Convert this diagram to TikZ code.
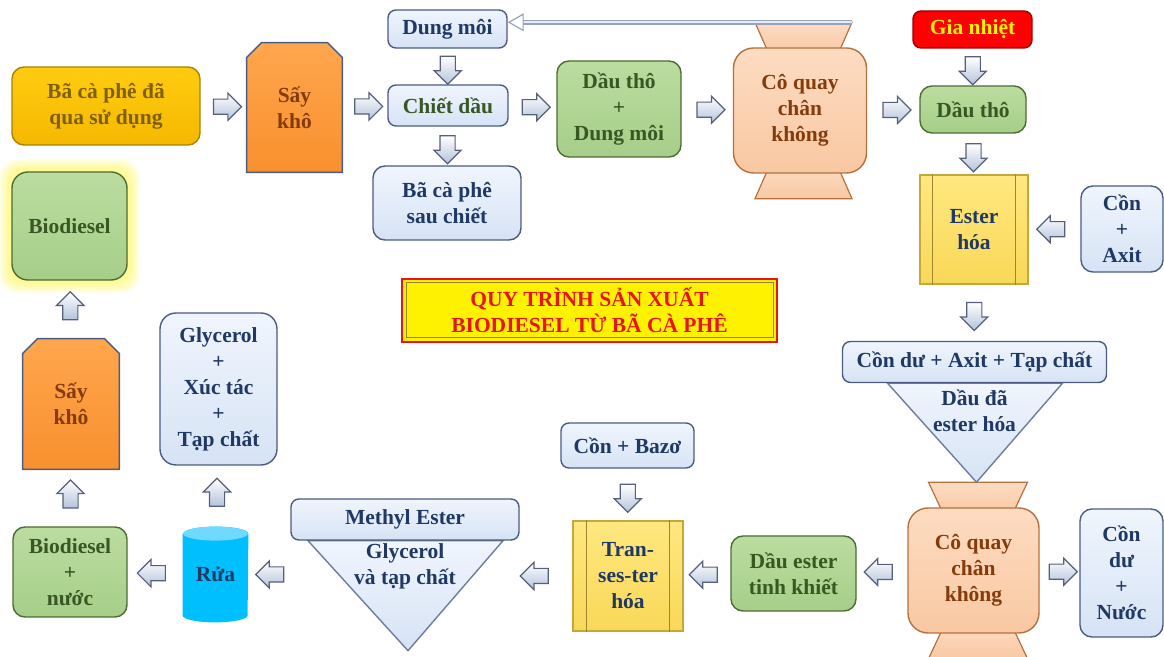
\documentclass[tikz,border=0pt]{standalone}
\usepackage{fontspec}
\setmainfont{Liberation Serif}
\usetikzlibrary{shapes.arrows,calc,backgrounds,arrows.meta}

\definecolor{navytext}{HTML}{1F3864}
\definecolor{greentext}{HTML}{385723}
\definecolor{goldtext}{HTML}{7F6000}
\definecolor{browntext}{HTML}{843C0C}
\definecolor{blueA}{HTML}{F0F5FD}
\definecolor{blueB}{HTML}{D6E3F5}
\definecolor{blueedge}{HTML}{4A5C82}
\definecolor{greenA}{HTML}{BBDDA0}
\definecolor{greenB}{HTML}{A6CE89}
\definecolor{greenedge}{HTML}{4E6B35}
\definecolor{goldA}{HTML}{FFCC10}
\definecolor{goldB}{HTML}{F5B800}
\definecolor{goldedge}{HTML}{A88300}
\definecolor{orangeA}{HTML}{FFA64D}
\definecolor{orangeB}{HTML}{F8902E}
\definecolor{peachA}{HTML}{FDDCC2}
\definecolor{peachB}{HTML}{F9C8A2}
\definecolor{peachedge}{HTML}{B5703E}
\definecolor{procA}{HTML}{FFE880}
\definecolor{procB}{HTML}{F9D858}
\definecolor{procedge}{HTML}{C4A83A}
\definecolor{cyanbody}{HTML}{00BFFF}
\definecolor{cyantop}{HTML}{6FD9FF}
\definecolor{titlered}{HTML}{E8141B}
\definecolor{arrowfill}{HTML}{B3C3DC}
\definecolor{arrowedge}{HTML}{56607A}
\definecolor{retedge}{HTML}{97A3BA}
\definecolor{retfill}{HTML}{E6ECF5}

\tikzset{
  txt/.style={font=\bfseries\fontsize{10.75}{13}\selectfont, align=center, inner sep=0pt},
  boxsize/.style 2 args={minimum width=#1pt, minimum height=#2pt},
  box/.style={txt, rounded corners=4pt, line width=0.7pt},
  bluebox/.style={box, draw=blueedge, top color=blueA, bottom color=blueB, text=navytext},
  greenbox/.style={box, rounded corners=6pt, draw=greenedge, top color=greenA, bottom color=greenB, text=greentext},
  goldbox/.style={box, rounded corners=6pt, draw=goldedge, top color=goldA, bottom color=goldB, text=goldtext},
  peachbox/.style={box, rounded corners=10pt, draw=peachedge, top color=peachA, bottom color=peachB, text=browntext},
  redbox/.style={box, draw=red!60!black, fill=red, text=yellow},
  procbox/.style={txt, draw=procedge, top color=procA, bottom color=procB, text=navytext, line width=0.7pt},
  procline/.style={draw=procedge!80!black, line width=0.6pt},
  saybox/.style={txt, text=browntext},
  sayfill/.style={draw=blueedge, line width=0.7pt, top color=orangeA, bottom color=orangeB},
  legfill/.style={draw=peachedge, line width=0.6pt, top color=peachA, bottom color=peachB},
  funnel/.style={draw=blueedge!80, line width=0.7pt, top color=blueA, bottom color=blueB},
  titlebox/.style={txt, draw=titlered, line width=1pt, fill=yellow, text=titlered},
  blockarrow/.style={single arrow, single arrow head extend=3pt, minimum height=14pt,
    inner sep=0pt, inner ysep=3.5pt, draw=arrowedge, line width=0.6pt,
    top color=white, bottom color=arrowfill},
  returnline/.style={draw=retedge, line width=0.6pt, double=retfill, double distance=1.2pt,
    -{Triangle[open, length=8pt, width=9pt]}}
}

\begin{document}
\begin{tikzpicture}[x=0.5pt, y=-0.5pt]
\useasboundingbox (0,0) rectangle (1164,657);

% upper row
\node[goldbox, boxsize={94}{39}] (bacaphe) at (106,106) {Bã cà phê đã\\qua sử dụng};
\node[saybox, boxsize={47.5}{64.5}] (say1) at (294.5,107.5) {Sấy\\khô};
\node[bluebox, boxsize={59.5}{19}] (dungmoi) at (447.5,29) {Dung môi};
\node[bluebox, boxsize={60}{20.5}, text=greentext] (chiet) at (448,105.5) {Chiết dầu};
\node[bluebox, boxsize={74}{37}, rounded corners=6pt] (bacaphe2) at (447,203) {Bã cà phê\\sau chiết};
\node[greenbox, boxsize={62}{48}] (dautho1) at (619,109) {Dầu thô\\+\\Dung môi};
\node[peachbox, boxsize={66.5}{62.5}] (coquay1) at (800,110.5) {Cô quay\\chân\\không};
\node[redbox, boxsize={59.5}{18.5}] (gianhiet) at (972.5,29.5) {Gia nhiệt};
\node[greenbox, boxsize={53}{23.5}] (dautho2) at (973,109.5) {Dầu thô};
\node[procbox, boxsize={54}{54.5}] (ester) at (974,229.5) {Ester\\hóa};
\node[bluebox, boxsize={41}{43}, rounded corners=6pt] (conaxit) at (1122,229) {Cồn\\+\\Axit};

% right column and lower row
\node[bluebox, boxsize={132}{20.5}] (condu) at (974.5,362) {Cồn dư + Axit + Tạp chất};
\node[txt, text=navytext] (dauda) at ([yshift=-14pt]condu.south) {Dầu đã\\ester hóa};
\node[peachbox, boxsize={65.5}{62.5}] (coquay2) at (973.5,570.5) {Cô quay\\chân\\không};
\node[bluebox, boxsize={41.5}{64}, rounded corners=6pt] (condunuoc) at (1121.5,573) {Cồn\\dư\\+\\Nước};
\node[greenbox, boxsize={62.5}{37.5}] (dauester) at (793.5,573.5) {Dầu ester\\tinh khiết};
\node[procbox, boxsize={55}{55}] (transester) at (628,576) {Tran-\\ses-ter\\hóa};
\node[bluebox, boxsize={66.5}{22.5}] (conbazo) at (627.5,445.5) {Cồn + Bazơ};
\node[bluebox, boxsize={114}{20.5}] (methyl) at (405,519.5) {Methyl Ester};
\node[txt, text=navytext] (glytap) at ([yshift=-13pt]methyl.south) {Glycerol\\và tạp chất};
\node[txt, text=navytext, boxsize={32.5}{47.5}] (rua) at (215.5,574.5) {Rửa};
\node[bluebox, boxsize={58.5}{76}, rounded corners=8pt] (glycerol) at (218.5,389) {Glycerol\\+\\Xúc tác\\+\\Tạp chất};
\node[greenbox, boxsize={57}{45}] (biodnuoc) at (70,572) {Biodiesel\\+\\nước};
\node[saybox, boxsize={48}{65}] (say2) at (71,404) {Sấy\\khô};
\node[greenbox, boxsize={57.5}{54}, rounded corners=8pt] (biodiesel) at (69.5,226) {Biodiesel};

% title
\node[titlebox, boxsize={187.5}{31.5}] (title) at (589.5,310.5) {QUY TRÌNH SẢN XUẤT\\BIODIESEL TỪ BÃ CÀ PHÊ};
\draw[draw=goldtext!80, line width=0.5pt] ([shift={(2.5pt,-2.5pt)}]title.north west) rectangle ([shift={(-2.5pt,2.5pt)}]title.south east);

% shapes behind the nodes
\begin{scope}[on background layer]
  \foreach \g in {1,...,6}
    \fill[yellow!70, opacity=0.14, rounded corners=9pt]
      ([shift={({-\g*1pt},{\g*1pt})}]biodiesel.north west) rectangle ([shift={({\g*1pt},{-\g*1pt})}]biodiesel.south east);
  \path[sayfill] (say1.south west) -- ([yshift=-7.5pt]say1.north west) -- ([xshift=7.5pt]say1.north west)
    -- ([xshift=-7.5pt]say1.north east) -- ([yshift=-7.5pt]say1.north east) -- (say1.south east) -- cycle;
  \path[sayfill] (say2.south west) -- ([yshift=-7.5pt]say2.north west) -- ([xshift=7.5pt]say2.north west)
    -- ([xshift=-7.5pt]say2.north east) -- ([yshift=-7.5pt]say2.north east) -- (say2.south east) -- cycle;
  % vacuum legs
  \path[legfill] ([shift={(-22.5pt,12.5pt)}]coquay1.north) -- ([shift={(26pt,12.5pt)}]coquay1.north)
    -- ([shift={(18.75pt,-4pt)}]coquay1.north) -- ([shift={(-15.25pt,-4pt)}]coquay1.north) -- cycle;
  \path[legfill] ([shift={(-22.5pt,-12.5pt)}]coquay1.south) -- ([shift={(26pt,-12.5pt)}]coquay1.south)
    -- ([shift={(18.75pt,4pt)}]coquay1.south) -- ([shift={(-15.25pt,4pt)}]coquay1.south) -- cycle;
  \path[legfill] ([shift={(-22.5pt,12.5pt)}]coquay2.north) -- ([shift={(27pt,12.5pt)}]coquay2.north)
    -- ([shift={(19.25pt,-4pt)}]coquay2.north) -- ([shift={(-14.75pt,-4pt)}]coquay2.north) -- cycle;
  \path[legfill] ([shift={(-22.5pt,-12.5pt)}]coquay2.south) -- ([shift={(27pt,-12.5pt)}]coquay2.south)
    -- ([shift={(19.25pt,4pt)}]coquay2.south) -- ([shift={(-14.75pt,4pt)}]coquay2.south) -- cycle;
  % funnels
  \path[funnel] ([xshift=-43.5pt]condu.south) -- ([xshift=44pt]condu.south) -- ([shift={(1pt,-49.5pt)}]condu.south) -- cycle;
  \path[funnel] ([xshift=-48.5pt]methyl.south) -- ([xshift=49pt]methyl.south) -- ([shift={(1.5pt,-55pt)}]methyl.south) -- cycle;
  % wash tank
  \fill[cyanbody] ([yshift=-3.5pt]rua.north west) -- ([yshift=3.5pt]rua.south west)
    arc[start angle=180, end angle=360, x radius=16.25pt, y radius=3.5pt]
    -- ([yshift=-3.5pt]rua.north east)
    arc[start angle=0, end angle=180, x radius=16.25pt, y radius=3.5pt] -- cycle;
  \fill[cyantop] ([yshift=-3.5pt]rua.north) ellipse[x radius=16.25pt, y radius=3.5pt];
\end{scope}

% side bars of the process boxes
\draw[procline] ([xshift=6.5pt]ester.north west) -- ([xshift=6.5pt]ester.south west);
\draw[procline] ([xshift=-6.5pt]ester.north east) -- ([xshift=-6.5pt]ester.south east);
\draw[procline] ([xshift=7pt]transester.north west) -- ([xshift=7pt]transester.south west);
\draw[procline] ([xshift=-7pt]transester.north east) -- ([xshift=-7pt]transester.south east);

% solvent return
\coordinate (ret) at ([shift={(26pt,12.5pt)}]coquay1.north);
\draw[returnline] (ret) -- (ret -| dungmoi.east);

% block arrows
\node[blockarrow] (a1) at ($(bacaphe.east)!0.5!(say1.west)$) {};
\node[blockarrow] (a2) at ($(say1.east)!0.5!(chiet.west)$) {};
\node[blockarrow, rotate=-90] (a3) at ($(dungmoi.south)!0.5!(chiet.north)$) {};
\node[blockarrow, rotate=-90] (a4) at ($(chiet.south)!0.5!(bacaphe2.north)$) {};
\node[blockarrow] (a5) at ($(chiet.east)!0.5!(dautho1.west)$) {};
\node[blockarrow] (a6) at ($(dautho1.east)!0.5!(coquay1.west)$) {};
\node[blockarrow] (a7) at ($(coquay1.east)!0.5!(dautho2.west)$) {};
\node[blockarrow, rotate=-90] (a8) at ($(gianhiet.south)!0.5!(dautho2.north)$) {};
\node[blockarrow, rotate=-90] (a9) at ($(dautho2.south)!0.5!(ester.north)$) {};
\node[blockarrow, rotate=180] (a10) at ($(conaxit.west)!0.5!(ester.east)$) {};
\node[blockarrow, rotate=-90] (a11) at ($(ester.south)!0.5!(condu.north)$) {};
\node[blockarrow] (a12) at ($(coquay2.east)!0.5!(condunuoc.west)$) {};
\node[blockarrow, rotate=180] (a13) at ($(coquay2.west)!0.5!(dauester.east)$) {};
\node[blockarrow, rotate=180] (a14) at ($(dauester.west)!0.5!(transester.east)$) {};
\node[blockarrow, rotate=-90] (a15) at ($(conbazo.south)!0.5!(transester.north)$) {};
\node[blockarrow, rotate=180] (a16) at ($(methyl.east |- transester.west)!0.35!(transester.west)$) {};
\node[blockarrow, rotate=180] (a17) at ($(rua.east)!0.6!(methyl.west |- rua.east)$) {};
\node[blockarrow, rotate=90] (a18) at ($(rua.north)!0.5!(glycerol.south)$) {};
\node[blockarrow, rotate=180] (a19) at ($(rua.west)!0.5!(biodnuoc.east)$) {};
\node[blockarrow, rotate=90] (a20) at ($(biodnuoc.north)!0.5!(say2.south)$) {};
\node[blockarrow, rotate=90] (a21) at ($(say2.north)!0.5!(biodiesel.south)$) {};

\end{tikzpicture}
\end{document}
